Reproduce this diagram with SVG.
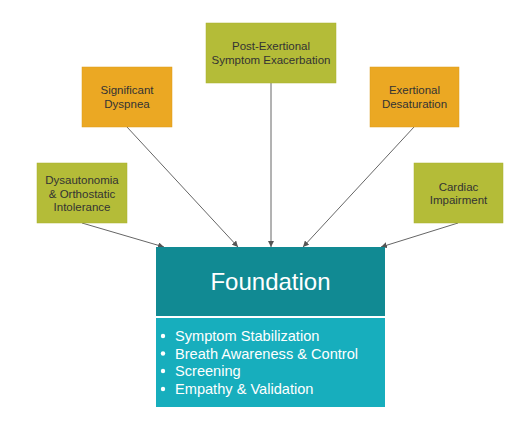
<svg xmlns="http://www.w3.org/2000/svg" width="514" height="442" viewBox="0 0 514 442">
<defs>
<style>
.olive{fill:#b4bc38;stroke:#a9b02f;stroke-width:0.5}
.orange{fill:#eba823;stroke:#dc9a1a;stroke-width:0.5}
.lbl{font-family:"Liberation Sans",Arial,sans-serif;font-size:11.5px;fill:#333;text-anchor:middle}
.conn{stroke:#666;stroke-width:1;fill:none;marker-end:url(#ah)}
.bul{font-family:"Liberation Sans",Arial,sans-serif;font-size:14.6px;fill:#fff}
</style>
<marker id="ah" viewBox="0 0 10 10" refX="10" refY="5" markerWidth="6" markerHeight="6" orient="auto" markerUnits="userSpaceOnUse">
<path d="M0,0 L10,5 L0,10 z" fill="#555"/>
</marker>
</defs>
<rect width="514" height="442" fill="#fff"/>
<g id="connectors">
<line class="conn" x1="82" y1="223" x2="164" y2="247"/>
<line class="conn" x1="127" y1="127" x2="238" y2="247"/>
<line class="conn" x1="271" y1="83" x2="271" y2="247"/>
<line class="conn" x1="414" y1="127" x2="303" y2="247"/>
<line class="conn" x1="458" y1="223" x2="381" y2="247"/>
</g>
<g id="post-exertional">
<rect class="olive" x="206" y="23" width="130" height="60"/>
<text class="lbl" x="271" y="50">Post-Exertional</text>
<text class="lbl" x="271" y="63.5">Symptom Exacerbation</text>
</g>
<g id="significant-dyspnea">
<rect class="orange" x="82" y="67" width="90" height="60"/>
<text class="lbl" x="127" y="94">Significant</text>
<text class="lbl" x="127" y="108">Dyspnea</text>
</g>
<g id="exertional-desaturation">
<rect class="orange" x="370" y="67" width="89" height="60"/>
<text class="lbl" x="414.5" y="94">Exertional</text>
<text class="lbl" x="414.5" y="108">Desaturation</text>
</g>
<g id="dysautonomia">
<rect class="olive" x="37" y="163" width="90" height="60"/>
<text class="lbl" x="82" y="184">Dysautonomia</text>
<text class="lbl" x="82" y="197.5">&amp; Orthostatic</text>
<text class="lbl" x="82" y="211">Intolerance</text>
</g>
<g id="cardiac-impairment">
<rect class="olive" x="414" y="163" width="89" height="60"/>
<text class="lbl" x="458.5" y="190.5">Cardiac</text>
<text class="lbl" x="458.5" y="204">Impairment</text>
</g>
<g id="foundation">
<rect x="156" y="247" width="229" height="69" fill="#118a93"/>
<text x="270.5" y="290" font-family="'Liberation Sans',Arial,sans-serif" font-size="24px" fill="#fff" text-anchor="middle">Foundation</text>
<rect x="156" y="318" width="229" height="89" fill="#17aebd"/>
<g fill="#fff">
<circle cx="163" cy="336" r="2.2"/>
<circle cx="163" cy="353.5" r="2.2"/>
<circle cx="163" cy="371" r="2.2"/>
<circle cx="163" cy="389" r="2.2"/>
</g>
<text class="bul" x="175" y="341">Symptom Stabilization</text>
<text class="bul" x="175" y="358.5">Breath Awareness &amp; Control</text>
<text class="bul" x="175" y="376">Screening</text>
<text class="bul" x="175" y="394">Empathy &amp; Validation</text>
</g>
</svg>
